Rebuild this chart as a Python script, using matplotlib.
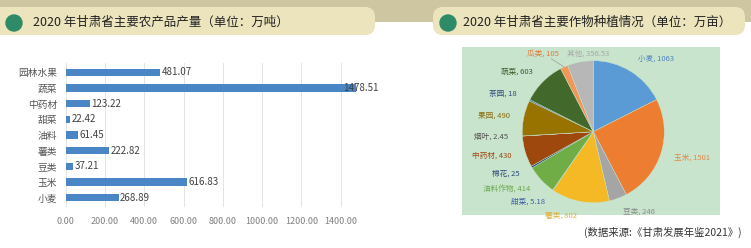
import matplotlib
matplotlib.use("Agg")
import numpy as np
import matplotlib.pyplot as plt
from matplotlib.patches import FancyBboxPatch, Rectangle, Circle

plt.rcParams['font.family'] = ['Noto Sans CJK SC', 'DejaVu Sans']
plt.rcParams['axes.unicode_minus'] = False

# ========== 数据 ==========
# 农产品产量（万吨），从下往上：小麦 ... 园林水果
crops = ["小麦", "玉米", "豆类", "薯类", "油料", "甜菜", "中药材", "蔬菜", "园林水果"]
output = [268.89, 616.83, 37.21, 222.82, 61.45, 22.42, 123.22, 1478.51, 481.07]
xticks = [0, 200, 400, 600, 800, 1000, 1200, 1400]

# 作物种植面积（万亩），顺时针从 12 点开始
areas_names = ["小麦", "玉米", "豆类", "薯类", "甜菜", "油料作物", "棉花", "中药材",
               "烟叶", "果园", "茶园", "蔬菜", "瓜类", "其他"]
areas = [1063, 1501, 246, 802, 5.18, 414, 25, 430, 2.45, 490, 18, 603, 105, 356.53]
pie_colors = ["#5b9bd5", "#ed7d31", "#a5a5a5", "#f5b925", "#4472c4", "#70ad47", "#264478",
              "#9e480e", "#636363", "#997300", "#255e91", "#43682b", "#f1975a", "#b7b7b7"]
label_colors = ["#4f86c0", "#dc8a4a", "#8c8c8c", "#e0b23a", "#3b5fa5", "#6aa84f", "#2d4a7a",
                "#9a4a14", "#505050", "#8a6d10", "#2d4a7a", "#3d5c28", "#e0783a", "#a8a8a8"]
# 顶部两个小标签挤在一起，手动挪开：(角度 自12点顺时针, 半径倍数)
label_adjust = {"瓜类": (327, 1.31), "其他": (356, 1.10)}

W, H = 751, 248
fig = plt.figure(figsize=(W / 100, H / 100), dpi=100)
fig.patch.set_facecolor("white")


def fbox(x0, y0, x1, y1):
    # 像素坐标（左上原点）转成 figure 比例
    return [x0 / W, 1 - y1 / H, (x1 - x0) / W, (y1 - y0) / H]


# ========== 背景装饰：顶部色带 + 标题条 ==========
bg = fig.add_axes([0, 0, 1, 1])
bg.set_xlim(0, W)
bg.set_ylim(H, 0)
bg.axis("off")
bg.add_patch(Rectangle((0, 0), W, 22, color="#cec6a0", lw=0))
bg.add_patch(FancyBboxPatch((-20, 7), 395, 28, boxstyle="round,pad=0,rounding_size=10",
                            fc="#ebe4bd", ec="none"))
bg.add_patch(FancyBboxPatch((433, 7), 312, 28, boxstyle="round,pad=0,rounding_size=10",
                            fc="#ebe4bd", ec="none"))
bg.add_patch(Circle((14, 23), 8, color="#2e8a67"))
bg.add_patch(Circle((448, 23), 8, color="#2e8a67"))
bg.text(33, 22.5, "2020 年甘肃省主要农产品产量（单位：万吨）", fontsize=9, color="#222222",
        va="center", ha="left")
bg.text(463, 22.5, "2020 年甘肃省主要作物种植情况（单位：万亩）", fontsize=9, color="#222222",
        va="center", ha="left")
# 饼图浅绿底
bg.add_patch(Rectangle((462, 47), 258, 168, color="#c9e4cd", lw=0))
bg.text(742, 232, "(数据来源:《甘肃发展年鉴2021》)", fontsize=7.5, color="#333333",
        va="center", ha="right")

# ========== 条形图 ==========
ax = fig.add_axes(fbox(65.7, 62.9, 360.3, 207.1))
ypos = list(range(len(crops)))
xmax = 1500
ax.barh(ypos, output, height=0.46, color="#4a86c5", zorder=3)
for y, v in zip(ypos, output):
    # 超出右边界的标签压在条形末端（和原图一样）
    lx = min(v + 8, xmax - 88)
    ax.text(lx, y, f"{v:.2f}", fontsize=7, color="#404040", va="center", ha="left",
            zorder=4, clip_on=False)
ax.set_xlim(0, xmax)
ax.set_ylim(-0.6, len(crops) - 0.4)
ax.set_yticks(ypos)
ax.set_yticklabels(crops, fontsize=7, color="#555555")
ax.set_xticks(xticks)
ax.set_xticklabels([f"{t:.2f}" for t in xticks], fontsize=6.5, color="#808080")
ax.tick_params(length=0, pad=7)
ax.tick_params(axis="y", pad=6)
ax.grid(axis="x", color="#e4e4e4", lw=0.7, zorder=0)
for s in ax.spines.values():
    s.set_visible(False)

# ========== 饼图 ==========
R = 71.0
cx, cy = 593.3, 131.7
half = 95
pax = fig.add_axes(fbox(cx - half, cy - half, cx + half, cy + half))
labels = [f"{n}, {v:g}" for n, v in zip(areas_names, areas)]
wedges, texts = pax.pie(areas, colors=pie_colors, startangle=90, counterclock=False,
                        labels=labels, labeldistance=1.2,
                        wedgeprops=dict(linewidth=0.3, edgecolor="#c9e4cd"),
                        textprops=dict(fontsize=5.5))
for name, t, c in zip(areas_names, texts, label_colors):
    t.set_color(c)
    t.set_clip_on(False)
    if name in label_adjust:
        a, r = label_adjust[name]
        a = np.radians(a)
        t.set_position((r * np.sin(a), r * np.cos(a)))
        t.set_ha("center")

# 瓜类的引导线
gi = areas_names.index("瓜类")
w = wedges[gi]
mid = np.radians((w.theta1 + w.theta2) / 2)
a, r = label_adjust["瓜类"]
a = np.radians(a)
pax.plot([r * np.sin(a) + 0.12, np.cos(mid)], [r * np.cos(a) - 0.07, np.sin(mid)],
         color="#8c8c8c", lw=0.4, clip_on=False)

pax.set_xlim(-half / R, half / R)
pax.set_ylim(-half / R, half / R)
pax.set_aspect("equal")
pax.axis("off")

fig.savefig("out.png", dpi=100, facecolor="white")
